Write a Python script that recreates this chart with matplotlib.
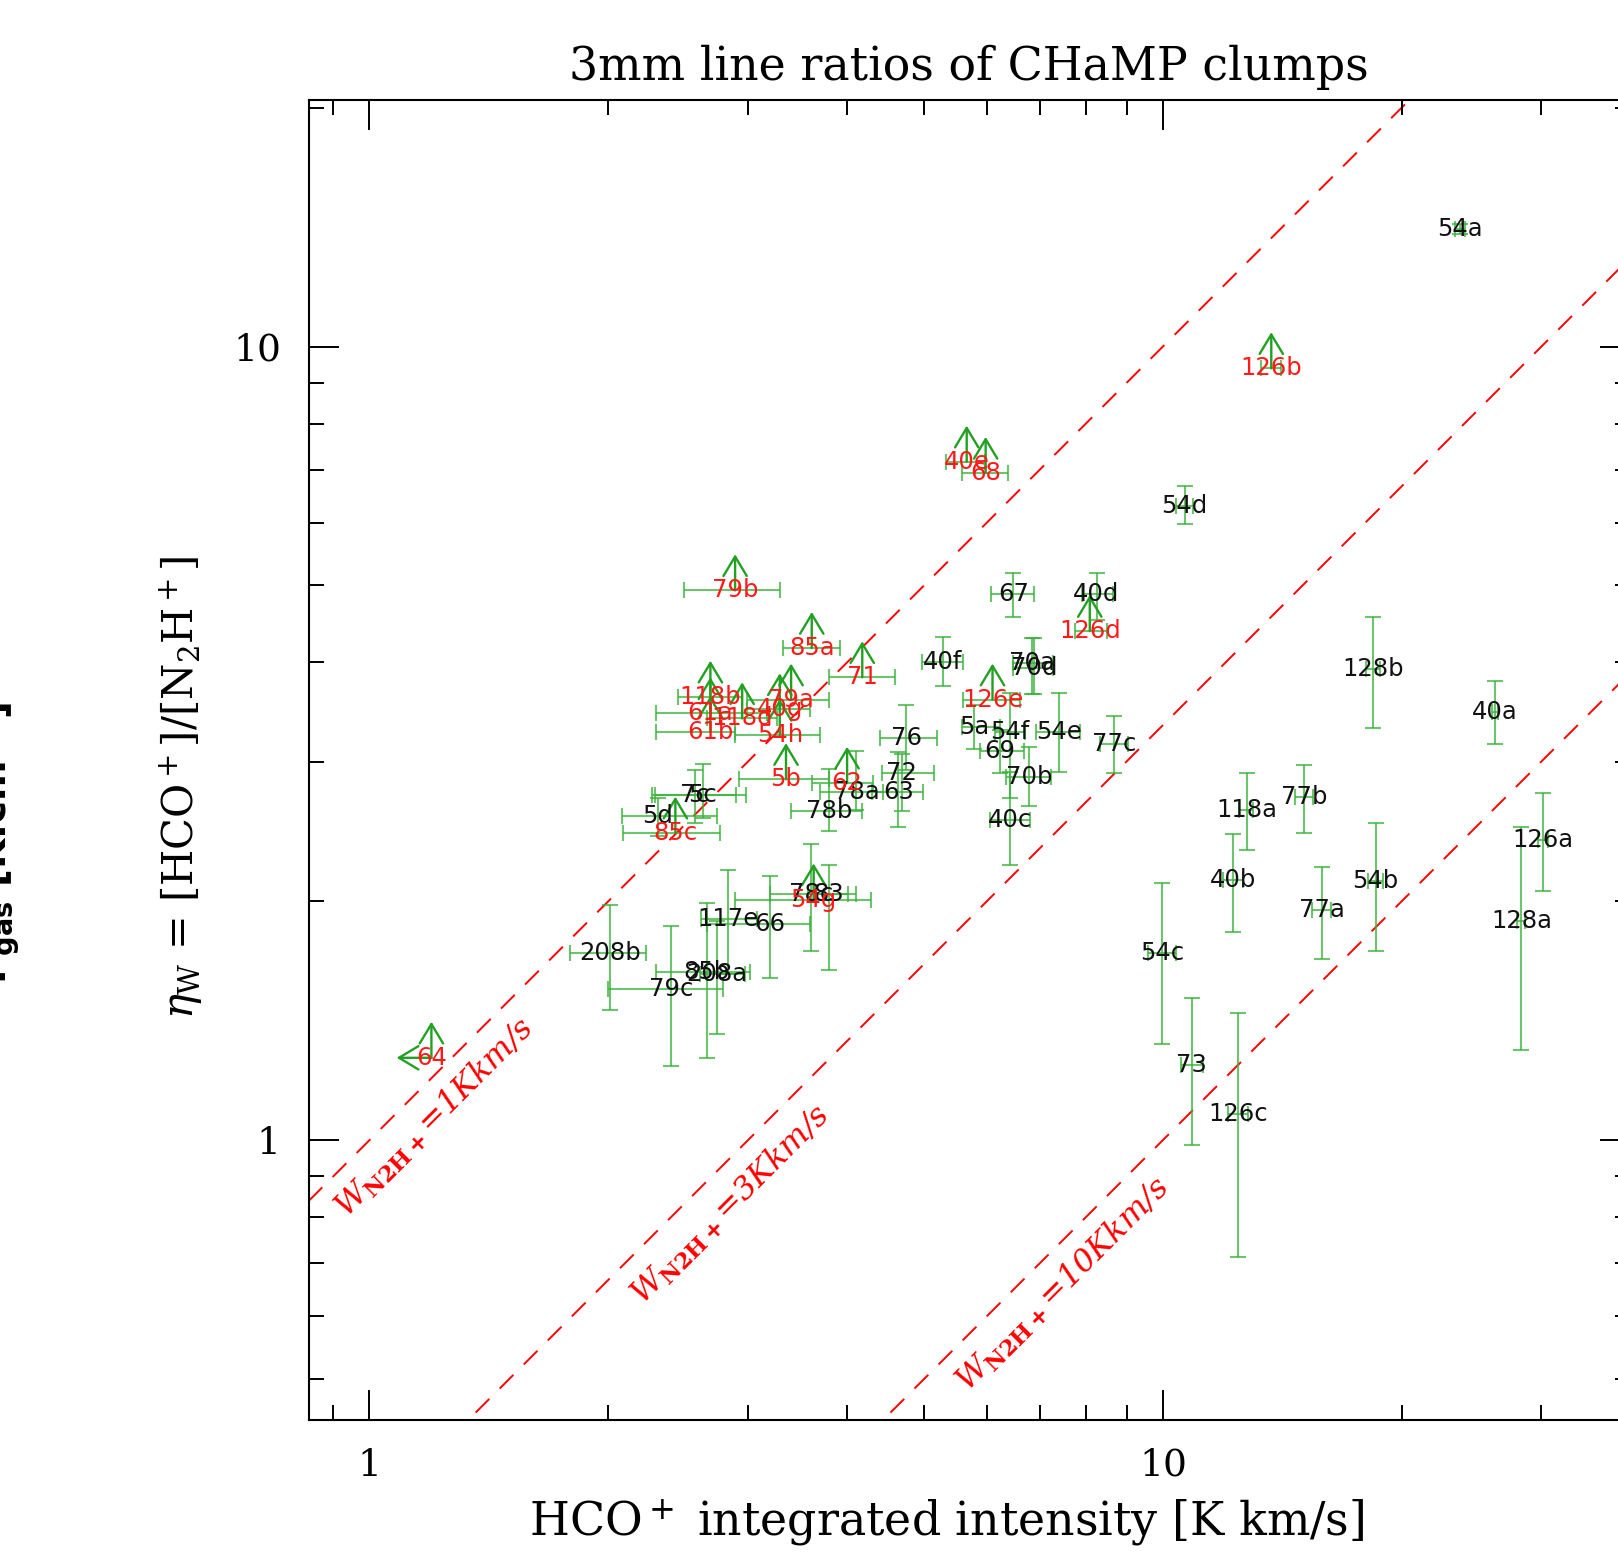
import numpy as np
import matplotlib
matplotlib.use('Agg')
import matplotlib.pyplot as plt
import matplotlib.transforms as mtransforms
from matplotlib.ticker import FixedLocator, LogLocator, NullFormatter, FuncFormatter

plt.rcParams['font.family'] = 'DejaVu Serif'
plt.rcParams['mathtext.fontset'] = 'dejavuserif'

# ---- clumps with both lines detected (black labels) ----
det_name = ['54a', '54d', '67', '40d', '40f', '70a', '70d', '5a', '54f', '54e',
            '77c', '69', '70b', '40c', '76', '72', '63', '78a', '78b', '5c',
            '7c', '5d', '208b', '79c', '85b', '208a', '117e', '66', '78c', '83',
            '54c', '73', '126c', '40b', '118a', '77b', '77a', '54b', '128b', '40a',
            '126a', '128a']
det_x = [23.7, 10.65, 6.48, 8.25, 5.28, 6.84, 6.88, 5.78, 6.42, 7.40,
         8.68, 6.23, 6.78, 6.42, 4.75, 4.69, 4.64, 4.11, 3.80, 2.63,
         2.57, 2.31, 2.01, 2.40, 2.66, 2.74, 2.83, 3.20, 3.60, 3.79,
         9.97, 10.88, 12.45, 12.27, 12.75, 15.06, 15.85, 18.55, 18.41, 26.20,
         30.14, 28.31]
det_xlo = [23.35, 10.40, 6.08, 7.90, 4.97, 6.47, 6.47, 5.58, 6.14, 6.93,
           8.34, 5.88, 6.34, 6.05, 4.40, 4.42, 4.30, 3.70, 3.40, 2.27,
           2.29, 2.08, 1.79, 2.00, 2.30, 2.61, 2.62, 2.66, 3.20, 3.57,
           9.57, 10.54, 12.09, 11.91, 12.49, 14.66, 15.43, 18.14, 18.03, 25.97,
           29.70, 27.98]
det_xhi = [24.05, 10.90, 6.88, 8.66, 5.60, 7.27, 7.27, 6.23, 6.70, 7.86,
           9.04, 6.68, 7.22, 6.80, 5.19, 5.15, 4.99, 4.44, 4.18, 2.90,
           2.98, 2.74, 2.23, 2.79, 3.02, 2.97, 3.08, 3.59, 4.11, 4.01,
           10.38, 11.23, 12.81, 12.63, 13.01, 15.46, 16.27, 18.96, 18.79, 26.43,
           30.58, 28.64]
det_y = [14.07, 6.30, 4.88, 4.88, 4.01, 3.99, 3.94, 3.32, 3.27, 3.27,
         3.16, 3.09, 2.87, 2.53, 3.21, 2.90, 2.75, 2.75, 2.60, 2.72,
         2.72, 2.56, 1.72, 1.55, 1.63, 1.62, 1.90, 1.87, 2.04, 2.04,
         1.72, 1.245, 1.078, 2.13, 2.61, 2.71, 1.95, 2.12, 3.92, 3.46,
         2.39, 1.89]
det_ylo = [13.85, 5.98, 4.56, 4.52, 3.74, 3.65, 3.65, 3.11, 2.70, 2.91,
           2.90, 2.90, 2.64, 2.22, 2.93, 2.60, 2.48, 2.61, 2.45, 2.55,
           2.51, 2.42, 1.46, 1.24, 1.27, 1.36, 1.62, 1.60, 1.73, 1.64,
           1.32, 0.985, 0.713, 1.83, 2.32, 2.44, 1.69, 1.73, 3.31, 3.16,
           2.06, 1.30]
det_yhi = [14.29, 6.68, 5.19, 5.19, 4.31, 4.29, 4.29, 3.53, 3.66, 3.66,
           3.42, 3.29, 3.13, 2.91, 3.53, 3.07, 3.08, 3.09, 2.94, 2.98,
           2.93, 2.70, 1.98, 1.86, 1.99, 1.89, 2.19, 2.15, 2.36, 2.22,
           2.11, 1.51, 1.445, 2.43, 2.90, 2.97, 2.21, 2.51, 4.56, 3.79,
           2.74, 2.48]

# ---- clumps with N2H+ undetected: lower limits on eta (red labels) ----
lim_name = ['126b', '40e', '68', '79b', '85a', '71', '118b', '79a', '61a', '118d',
            '40g', '61b', '54h', '5b', '62', '126d', '126e', '85c', '54g']
lim_x = [13.70, 5.66, 5.98, 2.89, 3.61, 4.18, 2.69, 3.40, 2.69, 2.95,
         3.29, 2.69, 3.29, 3.35, 4.00, 8.09, 6.10, 2.43, 3.63]
lim_xlo = [13.30, 5.33, 5.59, 2.49, 3.32, 3.80, 2.45, 2.99, 2.30, 2.66,
           2.99, 2.30, 2.89, 2.92, 3.61, 7.75, 5.60, 2.09, 2.89]
lim_xhi = [14.10, 5.97, 6.38, 3.29, 3.92, 4.60, 2.95, 3.80, 3.17, 3.26,
           3.59, 2.89, 3.70, 3.80, 4.31, 8.50, 6.60, 2.77, 4.29]
lim_y = [9.39, 7.16, 6.93, 4.93, 4.17, 3.83, 3.62, 3.59, 3.45, 3.40,
         3.49, 3.27, 3.24, 2.85, 2.82, 4.38, 3.59, 2.44, 2.01]

# ---- clump with upper limit in HCO+ and lower limit in eta ----
ul_name = ['64']
ul_x = [1.197]
ul_y = [1.27]

# ---- constant N2H+ intensity lines ----
w_n2h = [1, 3, 10]
w_lab_x = [1.21, 2.85, 7.48]
w_lab_y = [1.068, 0.829, 0.657]

xlim = (0.838, 38.8)
ylim = (0.444, 20.45)

green = '#3cb03c'
arrow_green = '#22a022'

fig = plt.figure(figsize=(16.18, 15.56), dpi=100)
ax = fig.add_axes([0.1907, 0.0874, 0.8167, 0.8483])
ax.set_xscale('log')
ax.set_yscale('log')
ax.set_xlim(*xlim)
ax.set_ylim(*ylim)

# dashed lines eta = W_HCO / W_N2H
xx = np.array(xlim)
for w, lx, ly in zip(w_n2h, w_lab_x, w_lab_y):
    ax.plot(xx, xx / w, color='red', lw=1.4, ls=(0, (10, 7.5)), zorder=1)
    ax.text(lx, ly, r'$W_{\mathbf{N2H+}}$=%dKkm/s' % w, color='red', fontsize=23,
            style='italic', rotation=45, rotation_mode='anchor',
            ha='center', va='center', zorder=1)

# error bars
dx = np.array(det_x); dy = np.array(det_y)
ax.errorbar(dx, dy,
            xerr=[np.abs(dx - np.array(det_xlo)), np.abs(np.array(det_xhi) - dx)],
            yerr=[dy - np.array(det_ylo), np.array(det_yhi) - dy],
            fmt='none', ecolor=green, elinewidth=1.5, capsize=6, capthick=1.5,
            alpha=0.75, zorder=2)
lx_ = np.array(lim_x); ly_ = np.array(lim_y)
ax.errorbar(lx_, ly_,
            xerr=[lx_ - np.array(lim_xlo), np.array(lim_xhi) - lx_],
            fmt='none', ecolor=green, elinewidth=1.5, capsize=6, capthick=1.5,
            alpha=0.75, zorder=2)

# limit arrows
aprops = dict(arrowstyle='->,head_length=0.7,head_width=0.42', color=arrow_green,
              lw=1.7, shrinkA=0, shrinkB=0, mutation_scale=20)
up = mtransforms.offset_copy(ax.transData, fig=fig, x=0, y=26, units='points')
left = mtransforms.offset_copy(ax.transData, fig=fig, x=-25, y=0, units='points')
for x, y in zip(lim_x + ul_x, lim_y + ul_y):
    ax.annotate('', xy=(x, y), xycoords=up, xytext=(x, y), textcoords='data',
                arrowprops=aprops, zorder=3)
for x, y in zip(ul_x, ul_y):
    ax.annotate('', xy=(x, y), xycoords=left, xytext=(x, y), textcoords='data',
                arrowprops=aprops, zorder=3)

# labels
for n, x, y in zip(det_name, det_x, det_y):
    ax.text(x, y, n, color='#111111', fontsize=17.5, family='DejaVu Sans',
            ha='center', va='center', zorder=4)
for n, x, y in zip(lim_name + ul_name, lim_x + ul_x, lim_y + ul_y):
    ax.text(x, y, n, color='#ff1a1a', fontsize=17.5, family='DejaVu Sans',
            ha='center', va='center', zorder=4)

# axes styling
fmt = FuncFormatter(lambda v, p: '%g' % v)
for axis in (ax.xaxis, ax.yaxis):
    axis.set_major_locator(FixedLocator([1, 10]))
    axis.set_minor_locator(LogLocator(base=10, subs=np.arange(2, 10), numticks=50))
    axis.set_major_formatter(fmt)
    axis.set_minor_formatter(NullFormatter())
ax.tick_params(which='both', direction='in', top=True, right=True, width=1.4,
               labelsize=27, pad=20)
ax.tick_params(which='major', length=21.5)
ax.tick_params(which='minor', length=11)
for s in ax.spines.values():
    s.set_linewidth(1.5)

fig.text(969 / 1618, 1 - 67 / 1556, '3mm line ratios of CHaMP clumps',
         fontsize=33, ha='center', va='center')
fig.text(947 / 1618, 1 - 1522 / 1556, 'HCO$^+$ integrated intensity [K km/s]',
         fontsize=33, ha='center', va='center')
fig.text(181 / 1618, 1 - 787 / 1556, r'$\eta_{\rm W}$ = [HCO$^+$]/[N$_2$H$^+$]',
         fontsize=30, ha='center', va='center', rotation=90)
# clipped label of the neighbouring panel
fig.text(8 / 1618, 1 - 843 / 1556, r'P$_{\mathbf{gas}}$ [K.cm$^{-3}$]',
         fontsize=28, family='DejaVu Sans', weight='bold', math_fontfamily='dejavusans',
         rotation=90, rotation_mode='anchor', ha='center', va='baseline')

fig.savefig('out.png', dpi=100)
